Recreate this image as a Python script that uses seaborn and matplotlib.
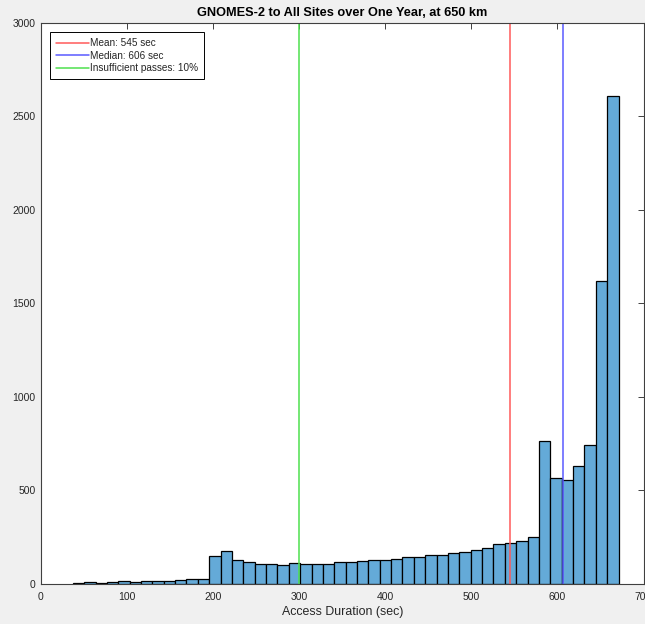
import pandas as pd
import seaborn as sns
import matplotlib.pyplot as plt

# histogram counts per bin (48 bins)
counts = [5, 9, 5, 10, 14, 13, 16, 16, 16, 21, 27, 27,
          148, 177, 130, 116, 107, 107, 104, 112, 107, 107, 107, 116,
          116, 121, 126, 127, 132, 143, 143, 155, 155, 166, 171, 183,
          194, 212, 221, 230, 253, 763, 565, 554, 629, 741, 1618, 2610]
bin_start = 36.9
bin_width = 13.21

mean_sec = 545
median_sec = 606
insufficient_sec = 300
legend_labels = ['Mean: 545 sec', 'Median: 606 sec', 'Insufficient passes: 10%']

title = 'GNOMES-2 to All Sites over One Year, at 650 km'
xlabel = 'Access Duration (sec)'


def main():
    sns.set_style('white')
    plt.rcParams['font.family'] = ['Liberation Sans', 'DejaVu Sans']

    edges = [float(bin_start + bin_width * i) for i in range(len(counts) + 1)]
    df = pd.DataFrame({'duration': [(edges[i] + edges[i + 1]) / 2 for i in range(len(counts))],
                       'count': counts})

    fig = plt.figure(figsize=(6.45, 6.24), dpi=100, facecolor='#f0f0f0')
    ax = fig.add_axes([41 / 645, 40 / 624, 602.5 / 645, 561.4 / 624])
    ax.set_facecolor('white')

    sns.histplot(data=df, x='duration', weights='count', bins=edges, ax=ax,
                 color='#64aad8', alpha=1, edgecolor='black', linewidth=0.9)

    ax.axvline(mean_sec, color='#ff5a5a', lw=1.1, label=legend_labels[0])
    ax.axvline(median_sec, color='#5a5aff', lw=1.1, label=legend_labels[1])
    ax.axvline(insufficient_sec, color='#4ee04e', lw=1.1, label=legend_labels[2])

    ax.set_xlim(0, 700)
    ax.set_ylim(0, 3000)
    ax.set_xticks(range(0, 701, 100))
    ax.set_yticks(range(0, 3001, 500))
    ax.tick_params(direction='in', top=True, right=True, length=4, width=0.7,
                   labelsize=7.5, colors='#404040', labelcolor='#262626')
    ax.tick_params(axis='x', pad=6)
    ax.tick_params(axis='y', pad=4)
    for s in ax.spines.values():
        s.set_visible(True)
        s.set_color('#404040')
        s.set_linewidth(0.8)

    ax.set_title(title, fontsize=9.2, fontweight='bold', color='black', pad=5)
    ax.set_xlabel(xlabel, fontsize=8.9, color='#262626', labelpad=3)
    ax.set_ylabel('')

    leg = ax.legend(loc='upper left', fontsize=7.2, frameon=True, fancybox=False,
                    handlelength=3.3, handletextpad=0.1, borderpad=0.6,
                    labelspacing=0.25, borderaxespad=0,
                    bbox_to_anchor=(0.015, 0.983))
    leg.get_frame().set_edgecolor('black')
    leg.get_frame().set_linewidth(0.7)
    leg.get_frame().set_alpha(1)

    plt.savefig('out.png', dpi=100, facecolor=fig.get_facecolor())


if __name__ == '__main__':
    main()
